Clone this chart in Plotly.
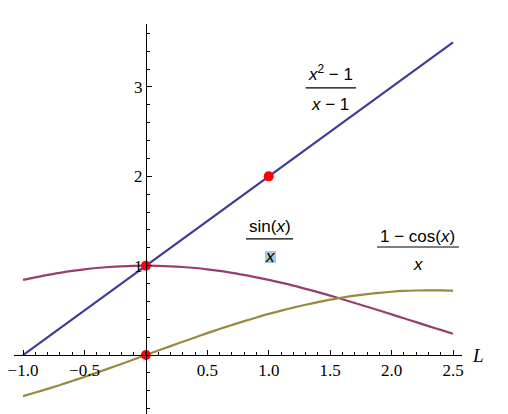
import plotly.graph_objects as go

# Sample x-grid
xs = [-1.0, -0.9, -0.8, -0.7, -0.6, -0.5, -0.4, -0.3, -0.2, -0.1, 0.0,
      0.1, 0.2, 0.3, 0.4, 0.5, 0.6, 0.7, 0.8, 0.9, 1.0,
      1.1, 1.2, 1.3, 1.4, 1.5, 1.6, 1.7, 1.8, 1.9, 2.0,
      2.1, 2.2, 2.3, 2.4, 2.5]

# (x^2-1)/(x-1)
line_vals = [0.0, 0.1, 0.2, 0.3, 0.4, 0.5, 0.6, 0.7, 0.8, 0.9, 1.0,
             1.1, 1.2, 1.3, 1.4, 1.5, 1.6, 1.7, 1.8, 1.9, 2.0,
             2.1, 2.2, 2.3, 2.4, 2.5, 2.6, 2.7, 2.8, 2.9, 3.0,
             3.1, 3.2, 3.3, 3.4, 3.5]

# sin(x)/x
sinc_vals = [0.841, 0.870, 0.897, 0.920, 0.941, 0.959, 0.974, 0.985, 0.993, 0.998, 1.000,
             0.998, 0.993, 0.985, 0.974, 0.959, 0.941, 0.920, 0.897, 0.870, 0.841,
             0.810, 0.777, 0.741, 0.704, 0.665, 0.625, 0.583, 0.541, 0.498, 0.455,
             0.411, 0.368, 0.324, 0.281, 0.239]

# (1-cos(x))/x
cosc_vals = [-0.460, -0.420, -0.379, -0.336, -0.291, -0.245, -0.197, -0.149, -0.100, -0.050, 0.000,
             0.050, 0.100, 0.149, 0.197, 0.245, 0.291, 0.336, 0.379, 0.420, 0.460,
             0.497, 0.531, 0.563, 0.593, 0.620, 0.643, 0.664, 0.682, 0.696, 0.708,
             0.717, 0.722, 0.724, 0.724, 0.720]

pt_x = [0, 0, 1]
pt_y = [0, 1, 2]

x_tickvals = [-1.0, -0.5, 0.5, 1.0, 1.5, 2.0, 2.5]
x_ticktext = ["\u22121.0", "\u22120.5", "0.5", "1.0", "1.5", "2.0", "2.5"]
y_tickvals = [1, 2, 3]
y_ticktext = ["1", "2", "3"]

BLUE = "#3D3D99"
PURPLE = "#993D71"
OLIVE = "#998B3D"

xr = [-1.0736, 2.573]
yr = [-0.660, 3.705]

fig = go.Figure()
fig.add_trace(go.Scatter(x=xs, y=line_vals, mode="lines",
                         line=dict(color=BLUE, width=2.2), showlegend=False))
fig.add_trace(go.Scatter(x=xs, y=sinc_vals, mode="lines", line_shape="spline",
                         line=dict(color=PURPLE, width=2.2), showlegend=False))
fig.add_trace(go.Scatter(x=xs, y=cosc_vals, mode="lines", line_shape="spline",
                         line=dict(color=OLIVE, width=2.2), showlegend=False))
fig.add_trace(go.Scatter(x=pt_x, y=pt_y, mode="markers",
                         marker=dict(color="#FF0000", size=10), showlegend=False))

tickfont = dict(family="Liberation Serif", size=17, color="black")

fig.update_layout(
    width=508, height=414,
    margin=dict(l=6, r=54, t=16, b=8),
    paper_bgcolor="white", plot_bgcolor="white",
    xaxis=dict(range=xr, showgrid=False, zeroline=False,
               showline=True, linecolor="black", linewidth=1,
               anchor="free", position=(0 - yr[0]) / (yr[1] - yr[0]),
               ticks="inside", ticklen=5, tickcolor="black",
               tickmode="array", tickvals=x_tickvals, ticktext=x_ticktext,
               tickfont=tickfont, automargin=False, ticklabeloverflow="allow",
               minor=dict(ticks="inside", ticklen=3, tickcolor="black",
                          tick0=0, dtick=0.1)),
    yaxis=dict(range=yr, showgrid=False, zeroline=False,
               showline=True, linecolor="black", linewidth=1,
               anchor="free", position=(0 - xr[0]) / (xr[1] - xr[0]),
               ticks="inside", ticklen=5, tickcolor="black",
               tickmode="array", tickvals=y_tickvals, ticktext=y_ticktext,
               tickfont=tickfont, automargin=False, ticklabeloverflow="allow",
               minor=dict(ticks="inside", ticklen=3, tickcolor="black",
                          tick0=0, dtick=0.2)),
)

lab_font = dict(family="Liberation Sans", size=17, color="black")

def frac(xc, y_num, y_bar, y_den, x0, x1, num, den):
    fig.add_annotation(x=xc, y=y_num, text=num, showarrow=False, font=lab_font,
                       xref="x", yref="y")
    fig.add_annotation(x=xc, y=y_den, text=den, showarrow=False, font=lab_font,
                       xref="x", yref="y")
    fig.add_shape(type="line", x0=x0, x1=x1, y0=y_bar, y1=y_bar,
                  xref="x", yref="y", line=dict(color="black", width=1.2))

# highlight behind the sin(x)/x denominator
fig.add_shape(type="rect", x0=0.969, x1=1.059, y0=1.030, y1=1.164,
              xref="x", yref="y", fillcolor="#A6C8E2", line=dict(width=0),
              layer="above")

frac(1.50, 3.157, 2.989, 2.800, 1.30, 1.71, "<i>x</i><sup>2</sup> \u2212 1", "<i>x</i> \u2212 1")
frac(1.01, 1.444, 1.299, 1.100, 0.815, 1.198, "sin(<i>x</i>)", "<i>x</i>")
frac(2.211, 1.332, 1.209, 1.010, 1.881, 2.548, "1 \u2212 cos(<i>x</i>)", "<i>x</i>")

fig.add_annotation(x=1.0357, y=0, xref="paper", yref="y", text="<i>L</i>",
                   xanchor="center", yanchor="middle",
                   showarrow=False, font=dict(family="Liberation Serif", size=19, color="black"))

fig.write_html("out.html")
